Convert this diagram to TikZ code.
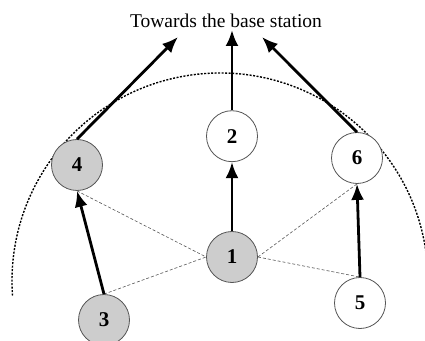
\documentclass[tikz,border=0pt]{standalone}
\usepackage{fontspec}
\setmainfont{Liberation Serif}
\usetikzlibrary{arrows.meta, positioning}
\definecolor{NodeGray}{HTML}{CDCDCD}
\definecolor{EdgeGray}{HTML}{555555}
\tikzset{
  sensor/.style={circle, minimum size=51pt, inner sep=0pt, draw=EdgeGray, line width=0.8pt, fill=white, font=\fontsize{21}{25}\selectfont\bfseries},
  active/.style={sensor, fill=NodeGray},
  route/.style={-{Latex[length=16pt, width=13pt]}, line width=2.8pt, draw=black},
  link/.style={draw=EdgeGray, line width=0.6pt, dash pattern=on 3pt off 2pt},
  radiorange/.style={draw=black, line width=1.4pt, dash pattern=on 2pt off 1.5pt}
}
\begin{document}
\begin{tikzpicture}[x=1pt, y=1pt]
            \useasboundingbox (0,0) rectangle (425,340);
            % radio range of node 1
            \draw [radiorange] (220,59) ++(8:208) arc[start angle=8, end angle=184, radius=208];
            \node (title) at (226,319) {\fontsize{19.5}{23}\selectfont Towards the base station};
            \node (n1) [active] at (232,83) {1};
            \node (n2) [sensor, above=69pt of n1] {2};
            \node (n4) [active] at (77,175) {4};
            \node (n6) [sensor] at (357,182) {6};
            \node (n3) [active] at (104,20) {3};
            \node (n5) [sensor] at (360,37) {5};
            \coordinate (t4) at (178,303);
            \coordinate (t2) at (232,310);
            \coordinate (t6) at (262,303);
            \draw [link] (n4.south) -- (n1.west);
            \draw [link] (n3.north) -- (n1.west);
            \draw [link] (n1.east) -- (n6.south);
            \draw [link] (n1.east) -- (n5.north);
            \draw [route] (n4.north) -- (t4);
            \draw [route] (n2.north) -- (t2);
            \draw [route] (n6.north) -- (t6);
            \draw [route] (n1.north) -- (n2.south);
            \draw [route] (n3.north) -- (n4.south);
            \draw [route] (n5.north) -- (n6.south);
        \end{tikzpicture}
\end{document}
